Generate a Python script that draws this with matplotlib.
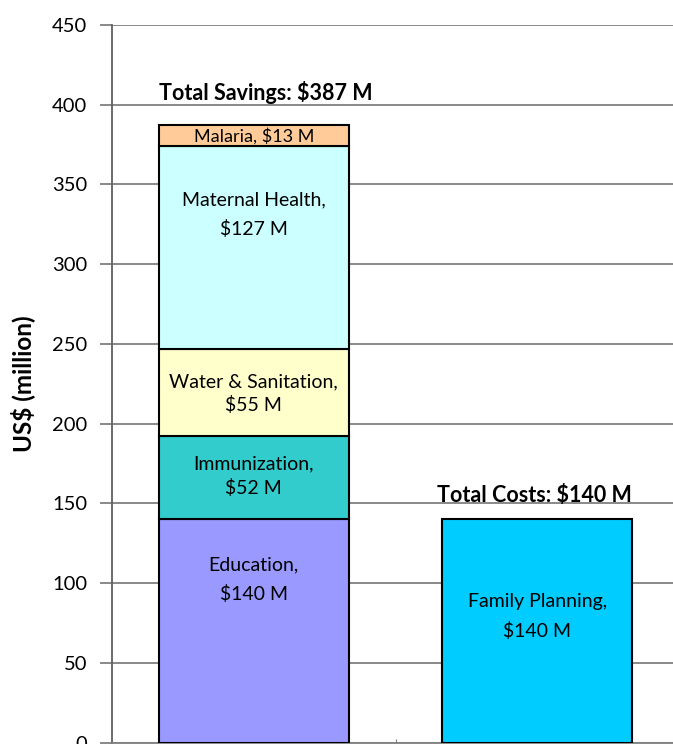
import matplotlib.pyplot as plt
import numpy as np

plt.rcParams['font.family'] = ['Lato', 'DejaVu Sans']

# data
categories = ['Savings', 'Costs']
savings_names = ['Education', 'Immunization', 'Water & Sanitation', 'Maternal Health', 'Malaria']
savings_vals = [140, 52, 55, 127, 13]
savings_cols = ['#9999FF', '#33CCCC', '#FFFFCC', '#CCFFFF', '#FFCC99']
cost_names = ['Family Planning']
cost_vals = [140]
cost_cols = ['#00CCFF']

# label text and where to put it (y in data units)
savings_text = ['Education,\n$140 M', 'Immunization,\n$52 M', 'Water & Sanitation,\n$55 M',
                'Maternal Health,\n$127 M', 'Malaria, $13 M']
savings_text_y = [102, 167, 219, 331, 380.5]
savings_text_ls = [1.8, 1.5, 1.38, 1.74, 1.0]
cost_text = ['Family Planning,\n$140 M']
cost_text_y = [79]

fig = plt.figure(figsize=(6.73, 7.44), dpi=100)
ax = fig.add_axes([112/673, 1.5/744, 567/673, 717.5/744])

w = 0.67
bottom = 0
for v, c in zip(savings_vals, savings_cols):
    ax.bar(0, v, w, bottom=bottom, color=c, edgecolor='black', linewidth=1.5, zorder=3)
    bottom += v
bottom = 0
for v, c in zip(cost_vals, cost_cols):
    ax.bar(1, v, w, bottom=bottom, color=c, edgecolor='black', linewidth=1.5, zorder=3)
    bottom += v

for t, y, ls in zip(savings_text, savings_text_y, savings_text_ls):
    fs = 13 if t.startswith('Malaria') else 14
    ax.text(0, y, t, ha='center', va='center', fontsize=fs, linespacing=ls, zorder=4)
for t, y in zip(cost_text, cost_text_y):
    ax.text(1, y, t, ha='center', va='center', fontsize=14, linespacing=1.86, zorder=4)

ax.text(0.042, 403, 'Total Savings: $%d M' % sum(savings_vals), ha='center', va='baseline',
        fontsize=15.5, fontweight='bold')
ax.text(0.99, 151, 'Total Costs: $%d M' % sum(cost_vals), ha='center', va='baseline',
        fontsize=15.5, fontweight='bold')

ax.set_ylim(0, 450)
ax.set_xlim(-0.5, 1.5)
ax.set_yticks(np.arange(0, 451, 50))
ax.yaxis.grid(True, color='#808080', linewidth=1.3, zorder=0)
ax.set_axisbelow(True)
ax.set_xticks([0.5])
ax.set_xticklabels([])
ax.tick_params(axis='x', direction='in', length=3, color='#808080')
ax.tick_params(axis='y', length=9, width=1.3, color='#808080', pad=9, labelsize=14.5)
for s in ['top', 'right']:
    ax.spines[s].set_visible(False)
ax.spines['left'].set_color('#606060')
ax.spines['left'].set_linewidth(1.3)
ax.spines['bottom'].set_color('#808080')
ax.spines['bottom'].set_linewidth(1.3)
ax.set_ylabel('US$ (million)', fontsize=17.5, fontweight='bold', labelpad=12)

plt.savefig('out.png', dpi=100)
